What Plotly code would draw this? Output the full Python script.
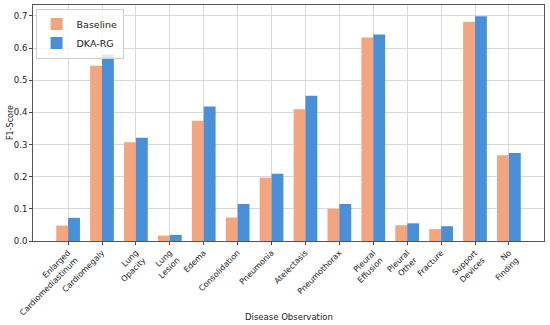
import plotly.graph_objects as go

categories = ["Enlarged<br>Cardiomediastinum", "Cardiomegaly", "Lung<br>Opacity", "Lung<br>Lesion",
              "Edema", "Consolidation", "Pneumonia", "Atelectasis", "Pneumothorax",
              "Pleural<br>Effusion", "Pleural<br>Other", "Fracture", "Support<br>Devices", "No<br>Finding"]
baseline = [0.048, 0.545, 0.307, 0.017, 0.374, 0.073, 0.197, 0.410, 0.100, 0.633, 0.049, 0.037, 0.682, 0.267]
dka_rg = [0.072, 0.580, 0.321, 0.019, 0.418, 0.115, 0.209, 0.452, 0.115, 0.642, 0.055, 0.046, 0.699, 0.274]
y_ticks = [0.0, 0.1, 0.2, 0.3, 0.4, 0.5, 0.6, 0.7]

font = "DejaVu Sans"
fig = go.Figure()
fig.add_trace(go.Bar(x=categories, y=baseline, name="Baseline", marker_color="#F2A57F", marker_line_width=0))
fig.add_trace(go.Bar(x=categories, y=dka_rg, name="DKA-RG", marker_color="#4A90D9", marker_line_width=0))

fig.update_layout(
    width=550, height=325,
    margin=dict(l=33, r=6, t=5, b=84, autoexpand=False),
    barmode="group", bargap=0.3, bargroupgap=0,
    plot_bgcolor="white", paper_bgcolor="white",
    font=dict(family=font, size=8, color="#222"),
    legend=dict(x=0.005, y=0.985, xanchor="left", yanchor="top",
                bgcolor="rgba(255,255,255,0.8)", bordercolor="#ccc", borderwidth=1,
                font=dict(size=9.5), itemwidth=30, tracegroupgap=0),
    xaxis=dict(range=[-1.035, 14.035], tickangle=-45, showgrid=True, gridcolor="#d9d9d9",
               ticks="outside", ticklen=3, tickcolor="#444", showline=True, linecolor="#555",
               mirror=True, automargin=False, tickfont=dict(size=8)),
    yaxis=dict(range=[0, 0.734], tickvals=y_ticks, tickformat=".1f", showgrid=True, gridcolor="#d9d9d9",
               ticks="outside", ticklen=3, tickcolor="#444", showline=True, linecolor="#555",
               mirror=True, zeroline=False, automargin=False, tickfont=dict(size=8.5)),
    annotations=[
        dict(text="Disease Observation", xref="paper", yref="paper", x=0.5, y=-0.32,
             xanchor="center", yanchor="middle", showarrow=False, font=dict(size=8.5)),
        dict(text="F1-Score", xref="paper", yref="paper", x=-0.045, y=0.5, textangle=-90,
             xanchor="center", yanchor="middle", showarrow=False, font=dict(size=8)),
    ],
)
fig.write_html("out.html", config={"displayModeBar": False},
               post_script="document.body.style.margin='0px';document.body.style.overflow='hidden';")
